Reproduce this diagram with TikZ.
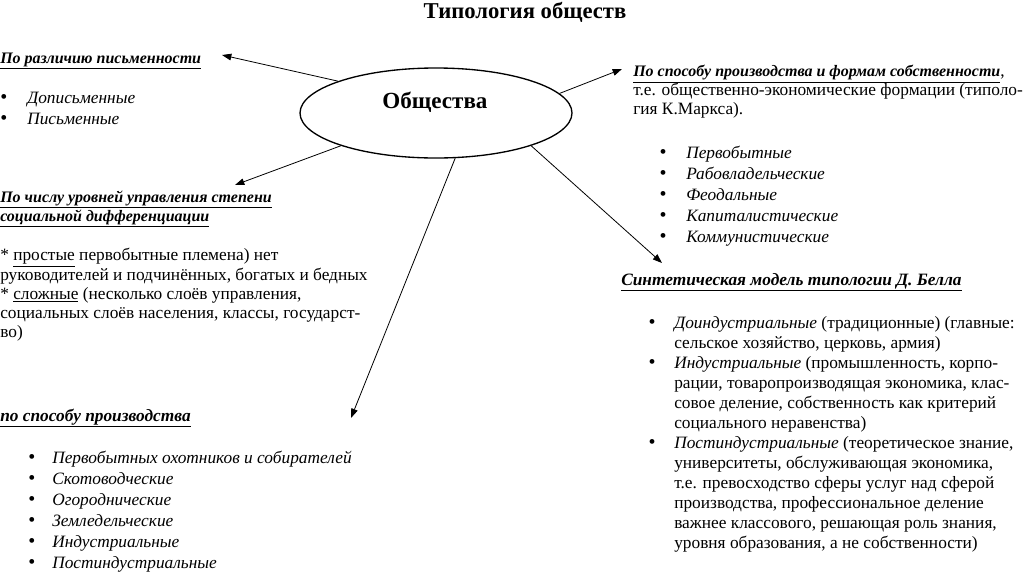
\documentclass[tikz,border=0pt]{standalone}
\usepackage{fontspec}
\setmainfont{Liberation Serif}
\usetikzlibrary{positioning,%
  arrows.meta,%
  shapes.geometric
}

\newcommand{\bodyfont}[1]{\fontsize{13}{#1}\selectfont}
\newcommand{\smallhead}[1]{\fontsize{12}{#1}\selectfont}
\newcommand{\headline}[1]{\textbf{\textit{\underline{#1}}}}

\tikzset{
  hub/.style={ellipse, draw, line width=1pt, minimum width=204pt,
    minimum height=67.5pt, inner sep=0pt},
  blk/.style={anchor=base west, inner sep=0pt, align=left},
  dot/.style={anchor=base, inner sep=0pt, font=\fontsize{15}{15}\selectfont},
  link/.style={line width=0.6pt, -{Triangle[length=7pt,width=5pt]}}
}

\begin{document}
\begin{tikzpicture}[x=0.75pt,y=-0.75pt,font=\bodyfont{15}]
  \useasboundingbox (0,0) rectangle (1024,572);

  % title and centre
  \node[anchor=base, font=\fontsize{17}{20}\selectfont\bfseries] (title) at (525,18) {Типология обществ};
  \node[hub] (soc) at (436,113) {};
  \node[anchor=base, font=\fontsize{17.3}{20}\selectfont\bfseries] (soclbl) at (435,108) {Общества};

  % left side (multi-line blocks sit on their last baseline)
  \node[blk, font=\smallhead{15}] (wrt) at (0,63) {\headline{По различию письменности}};
  \foreach \t [count=\i] in {Дописьменные, Письменные} {
    \node[dot] (wrtd\i) at (4,{103+(\i-1)*21}) {\textbullet};
    \node[blk] (wrt\i) at (27,{103+(\i-1)*21}) {\textit{\t}};
  }

  \node[blk, font=\smallhead{12.75}] (lvl) at (0,221)
    {\headline{По числу уровней управления степени}\\
     \headline{социальной дифференциации}};
  \node[blk, font=\bodyfont{14.06}] (lvltxt) at (0,337)
    {* \underline{простые} первобытные племена) нет\\
     руководителей и подчинённых, богатых и бедных\\
     * \underline{сложные} (несколько слоёв управления,\\
     социальных слоёв населения, классы, государст-\\
     во)};

  \node[blk] (prod) at (0,421) {\headline{по способу производства}};
  \foreach \t [count=\i] in {Первобытных охотников и собирателей, Скотоводческие,
      Огороднические, Земледельческие, Индустриальные, Постиндустриальные} {
    \node[dot] (prodd\i) at (32,{463+(\i-1)*21}) {\textbullet};
    \node[blk] (prod\i) at (52,{463+(\i-1)*21}) {\textit{\t}};
  }

  % right side
  \node[blk, font=\bodyfont{13.9}] (form) at (633,114)
    {{\smallhead{13.9}\headline{По способу производства и формам собственности}},\\
     т.е. общественно-экономические формации (типоло-\\
     гия К.Маркса).};
  \foreach \t [count=\i] in {Первобытные, Рабовладельческие, Феодальные,
      Капиталистические, Коммунистические} {
    \node[dot] (formd\i) at (663,{158+(\i-1)*21}) {\textbullet};
    \node[blk] (form\i) at (686,{158+(\i-1)*21}) {\textit{\t}};
  }

  \node[blk] (bell) at (621,285) {\headline{Синтетическая модель типологии Д. Белла}};
  \node[dot] (belld1) at (652,328) {\textbullet};
  \node[blk] (bell1) at (674,348)
    {\textit{Доиндустриальные} (традиционные) (главные:\\
     сельское хозяйство, церковь, армия)};
  \node[dot] (belld2) at (652,368) {\textbullet};
  \node[blk] (bell2) at (674,428)
    {\textit{Индустриальные} (промышленность, корпо-\\
     рации, товаропроизводящая экономика, клас-\\
     совое деление, собственность как критерий\\
     социального неравенства)};
  \node[dot] (belld3) at (652,448) {\textbullet};
  \node[blk] (bell3) at (674,548)
    {\textit{Постиндустриальные} (теоретическое знание,\\
     университеты, обслуживающая экономика,\\
     т.е. превосходство сферы услуг над сферой\\
     производства, профессиональное деление\\
     важнее классового, решающая роль знания,\\
     уровня образования, а не собственности)};

  % arrows
  \coordinate (wrtend) at (222,55);
  \coordinate (lvlend) at (235,185);
  \coordinate (prodend) at (351,418);
  \coordinate (formend) at (622,69);
  \coordinate (bellend) at (662,263);
  \draw[link] (soc.162) -- (wrtend);
  \draw[link] (soc.199) -- (lvlend);
  \draw[link] (soc.293) -- (prodend);
  \draw[link] (soc.9) -- (formend);
  \draw[link] (soc.-19) -- (bellend);
\end{tikzpicture}
\end{document}
